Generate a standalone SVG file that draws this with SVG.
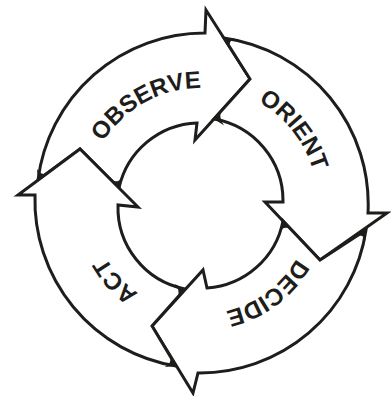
<svg xmlns="http://www.w3.org/2000/svg" width="391" height="396" viewBox="0 0 391 396">
<style>
.arrow{fill:#fff;stroke:#1d1d1b;stroke-width:3;stroke-linejoin:miter;stroke-miterlimit:12}
.ink{fill:#1d1d1b;stroke:none}
.lbl{font-family:"Liberation Sans",Arial,sans-serif;font-weight:bold;font-size:24px;fill:#1d1d1b}
</style>
<defs>
<path id="tp-observe" d="M85.03,201.57 A116,116 0 0 1 261.09,104.77"/>
<path id="tp-orient" d="M183.71,88.29 A117,117 0 0 1 309.86,246.88"/>
<path id="tp-decide" d="M310.27,191.36 A110,110 0 0 1 157.31,304.95"/>
<path id="tp-act" d="M223.66,310.62 A109,109 0 0 1 97.33,170.32"/>
</defs>
<rect width="391" height="396" fill="#fff"/>
<g id="observe">
<path class="arrow" d="M38,180 A168,168 0 0 1 205,33 L206,10 L250,79 L195,140 L197,123 A83,83 0 0 0 119,188 L80,149 Z"/>
<path class="ink" d="M119,188 L111.2,180.2 Q117.85,183.4 122.2,177.4 Z"/>
<path class="ink" d="M38,180 L46.9,173.5 Q40,175.6 37,168.8 Z"/>
<text class="lbl"><textPath href="#tp-observe" startOffset="50%" text-anchor="middle">OBSERVE</textPath></text>
</g>
<g id="orient">
<path class="arrow" d="M224,38 A168,168 0 0 1 368,213 L387,213 L320,260 L265,202 L283,202 A83,83 0 0 0 214,119 L250,79 Z"/>
<path class="ink" d="M214,119 L221.4,110.8 Q218.4,118.6 224.1,125.4 Z"/>
<path class="ink" d="M224,38 L229.9,47.3 Q228.2,40.4 235,38.4 Z"/>
<text class="lbl"><textPath href="#tp-orient" startOffset="50%" text-anchor="middle">ORIENT</textPath></text>
</g>
<g id="decide">
<path class="arrow" d="M366,230 A168,168 0 0 1 198,373 L193,393 L152,326 L203,270 L207,288 A83,83 0 0 0 283,221 L320,260 Z"/>
<path class="ink" d="M283,221 L290.6,229 Q283.95,225.6 279.2,231.5 Z"/>
<path class="ink" d="M366,230 L356.8,236 Q363.5,234.2 365.2,240.9 Z"/>
<text class="lbl"><textPath href="#tp-decide" startOffset="50%" text-anchor="middle">DECIDE</textPath></text>
</g>
<g id="act">
<path class="arrow" d="M176,366 A168,168 0 0 1 35,195 L18,195 L80,149 L138,207 L118,205 A83,83 0 0 0 185,289 L152,326 Z"/>
<path class="ink" d="M185,289 L177.7,297.2 Q180.6,289.8 174.7,283.9 Z"/>
<path class="ink" d="M176,366 L170.3,356.6 Q171.75,363.9 164.7,366.9 Z"/>
<text class="lbl"><textPath href="#tp-act" startOffset="50%" text-anchor="middle">ACT</textPath></text>
</g>
<g id="connectors"/>
</svg>
